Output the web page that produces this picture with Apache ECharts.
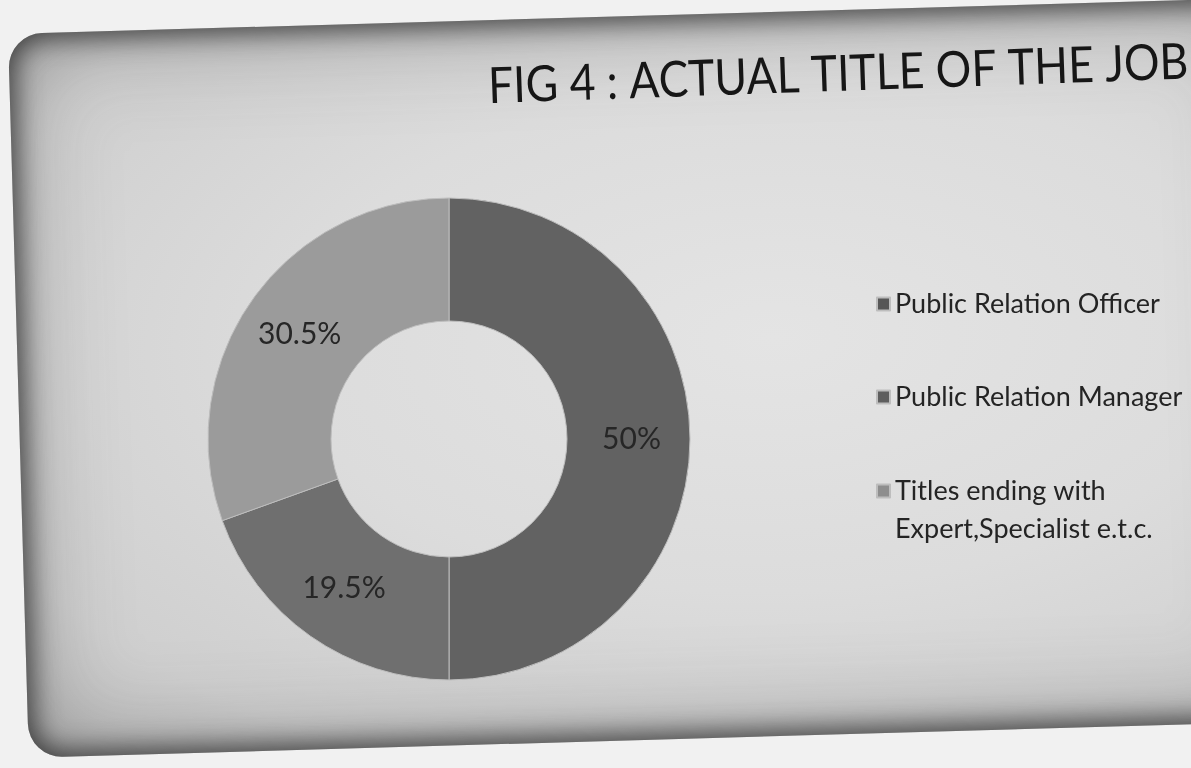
<!DOCTYPE html>
<html>
<head>
<meta charset="utf-8">
<script src="https://cdn.jsdelivr.net/npm/echarts@6/dist/echarts.min.js"></script>
<style>
  html, body { margin: 0; padding: 0; width: 1191px; height: 768px; overflow: hidden; background: #f1f1f1; }
  /* the projected slide: light panel with darkened, rounded edges */
  #slide {
    position: absolute; left: 8px; top: 34px; width: 1260px; height: 724px;
    border-radius: 34px;
    transform-origin: 0 0; transform: rotate(-1.65deg);
    background: radial-gradient(ellipse at 60% 45%, #e4e4e4 0%, #dcdcdc 45%, #cfcfcf 80%, #bdbdbd 100%);
    box-shadow: inset 0 0 26px 6px rgba(40,40,40,0.8), inset 0 0 90px 12px rgba(70,70,70,0.35);
  }
  #chart { position: absolute; left: 0; top: 0; width: 1191px; height: 768px; }
</style>
</head>
<body>
<div id="slide"></div>
<div id="chart"></div>
<script>
// Job titles and their share of respondents (%)
const categories = [
  'Public Relation Officer',
  'Public Relation Manager',
  'Titles ending with\nExpert,Specialist e.t.c.'
];
const shares = [50, 19.5, 30.5];
const sliceColors = ['#626262', '#6f6f6f', '#9b9b9b'];
const legendMarkColors = ['#575757', '#5e5e5e', '#8e8e8e'];
const titleText = 'FIG 4 : ACTUAL TITLE OF THE JOB';

const chart = echarts.init(document.getElementById('chart'), null, { renderer: 'canvas' });

// one legend block per entry, so each row sits at its own height
const legendTops = [284, 377, 434];
const legendBase = {
  orient: 'vertical',
  left: 876,
  padding: 0,
  itemWidth: 13,
  itemHeight: 13,
  icon: 'rect',
  textStyle: { fontFamily: 'Lato', fontSize: 27, color: '#242424', lineHeight: 40 }
};
const legends = categories.map((name, i) => {
  const block = Object.assign({}, legendBase, {
    top: legendTops[i],
    data: [{ name, itemStyle: { color: legendMarkColors[i] } }]
  });
  if (i === 2) {
    // two-line entry: keep the marker level with its first line
    block.formatter = n => '\n' + n;
    block.textStyle = Object.assign({}, legendBase.textStyle, { lineHeight: 38 });
  }
  return block;
});

const option = {
  backgroundColor: 'transparent',
  color: sliceColors,
  graphic: [{
    type: 'text',
    x: 489, y: 112,
    rotation: 0.035,
    scaleX: 0.89,
    style: {
      text: titleText,
      font: '50px Lato',
      fill: '#161616',
      verticalAlign: 'bottom'
    }
  }],
  legend: legends,
  series: [{
    type: 'pie',
    center: [449, 439],
    radius: [118, 241],
    startAngle: 90,
    clockwise: true,
    avoidLabelOverlap: false,
    itemStyle: { borderColor: '#bdbdbd', borderWidth: 1 },
    label: {
      show: true,
      position: 'inside',
      formatter: '{c}%',
      fontFamily: 'Lato',
      fontSize: 30,
      color: '#262626'
    },
    labelLine: { show: false },
    emphasis: { disabled: true },
    data: categories.map((name, i) => ({ name, value: shares[i] }))
  }]
};

chart.setOption(option);
</script>
</body>
</html>
